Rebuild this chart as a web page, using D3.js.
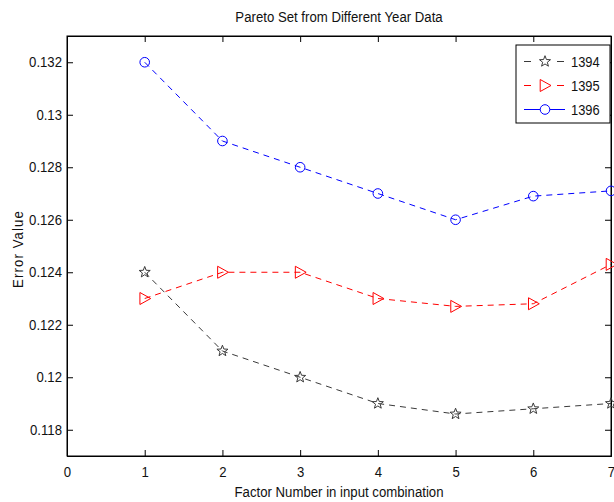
<!DOCTYPE html>
<html><head><meta charset="utf-8">
<script src="https://cdn.jsdelivr.net/npm/d3@7"></script>
<style>
body{margin:0;background:#fff;}
text{font-family:"Liberation Sans",Arial,sans-serif;}
</style></head><body>
<svg id="c" width="614" height="502"></svg>
<script>
const xValues = [1,2,3,4,5,6,7];
const series1394 = [0.124,0.121,0.120,0.119,0.1186,0.1188,0.119];
const series1395 = [0.123,0.124,0.124,0.123,0.1227,0.1228,0.1243];
const series1396 = [0.132,0.129,0.128,0.127,0.126,0.1269,0.1271];
const seriesNames = ["1394","1395","1396"];
const xTicks = [0,1,2,3,4,5,6,7];
const yTicks = [0.118,0.12,0.122,0.124,0.126,0.128,0.13,0.132];
const title = "Pareto Set from Different Year Data";
const xLabel = "Factor Number in input combination";
const yLabel = "Error Value";

const svg = d3.select("#c");
const L=67,R=611,T=36,B=456;
const x = d3.scaleLinear().domain([0,7]).range([L,R]);
const y = d3.scaleLinear().domain([0.117,0.133]).range([B,T]);

svg.append("rect").attr("x",L).attr("y",T).attr("width",R-L).attr("height",B-T)
  .attr("fill","none").attr("stroke","#000").attr("stroke-width",1);

const fmtY = d => String(+d.toFixed(3));
const gx = svg.append("g").attr("transform",`translate(0,${B})`)
  .call(d3.axisBottom(x).tickValues(xTicks).tickSize(-6).tickPadding(11).tickFormat(d3.format("d")));
const gxt = svg.append("g").attr("transform",`translate(0,${T})`)
  .call(d3.axisTop(x).tickValues(xTicks).tickSize(-6).tickFormat(""));
const gy = svg.append("g").attr("transform",`translate(${L},0)`)
  .call(d3.axisLeft(y).tickValues(yTicks).tickSize(-6).tickPadding(5).tickFormat(fmtY));
const gyr = svg.append("g").attr("transform",`translate(${R},0)`)
  .call(d3.axisRight(y).tickValues(yTicks).tickSize(-6).tickFormat(""));
[gx,gxt,gy,gyr].forEach(g=>{
  g.select(".domain").attr("stroke","#000");
  g.selectAll(".tick line").attr("stroke","#000");
  g.selectAll("text").attr("font-size",14).attr("fill","#111")
   .style("font-family",'"Liberation Sans",Arial,sans-serif');
});
gy.selectAll(".tick text").each(function(){
  const t=d3.select(this); const xx=+t.attr("x");
  t.attr("x",0).attr("transform",`translate(${xx},0) scale(0.94,1)`);
});
gx.selectAll(".tick text").attr("transform","scale(0.94,1)");

function ctext(px,py,str,size,sx,rot){
  return svg.append("text")
    .attr("transform",`translate(${px},${py})${rot?` rotate(${rot})`:""} scale(${sx},1)`)
    .attr("text-anchor","middle").attr("font-size",size).attr("fill","#111").text(str);
}
ctext((L+R)/2,22,title,14.5,0.91);
ctext((L+R)/2,497,xLabel,14.5,0.91);
ctext(23,249,yLabel,14,0.94,-90).attr("letter-spacing",1.2);

const starPath = (r)=>{
  const pts=[];
  for(let i=0;i<10;i++){
    const a=-Math.PI/2+i*Math.PI/5;
    const rr = i%2===0? r : r*0.42;
    pts.push([rr*Math.cos(a), rr*Math.sin(a)]);
  }
  return "M"+pts.map(p=>p.map(v=>v.toFixed(2)).join(",")).join("L")+"Z";
};
const triPath = (r)=>`M${-r*0.8},${-r}L${r},0L${-r*0.8},${r}Z`;
const circPath = (r)=>`M${r},0A${r},${r} 0 1,1 ${-r},0A${r},${r} 0 1,1 ${r},0Z`;

const defs = [
  {name:seriesNames[0], vals:series1394, color:"#3a3a3a", marker:starPath(5.8), legDash:"7,26"},
  {name:seriesNames[1], vals:series1395, color:"#ff0000", marker:triPath(6), legDash:"7,26"},
  {name:seriesNames[2], vals:series1396, color:"#0000ff", marker:circPath(4.8), legDash:null}
];
const line = d3.line().x((d,i)=>x(xValues[i])).y(d=>y(d));
defs.forEach(s=>{
  svg.append("path").attr("d",line(s.vals)).attr("fill","none").attr("stroke",s.color)
    .attr("stroke-width",1).attr("stroke-dasharray","6,5");
  svg.selectAll(null).data(s.vals).enter().append("path")
    .attr("transform",(d,i)=>`translate(${x(xValues[i])},${y(d)})`)
    .attr("d",s.marker).attr("fill","none").attr("stroke",s.color).attr("stroke-width",1);
});

const lg = svg.append("g");
lg.append("rect").attr("x",516).attr("y",45).attr("width",94).attr("height",78)
  .attr("fill","#fff").attr("stroke","#000").attr("stroke-width",1);
defs.forEach((s,i)=>{
  const yy = 61.5 + i*24;
  lg.append("line").attr("x1",524).attr("x2",565).attr("y1",yy).attr("y2",yy)
    .attr("stroke",s.color).attr("stroke-width",1).attr("stroke-dasharray",s.legDash);
  lg.append("path").attr("transform",`translate(545,${yy})`).attr("d",s.marker)
    .attr("fill","#fff").attr("stroke",s.color).attr("stroke-width",1);
  lg.append("text").attr("transform",`translate(571,${yy+5}) scale(0.92,1)`)
    .attr("font-size",14).attr("fill","#111").text(s.name);
});
</script></body></html>
